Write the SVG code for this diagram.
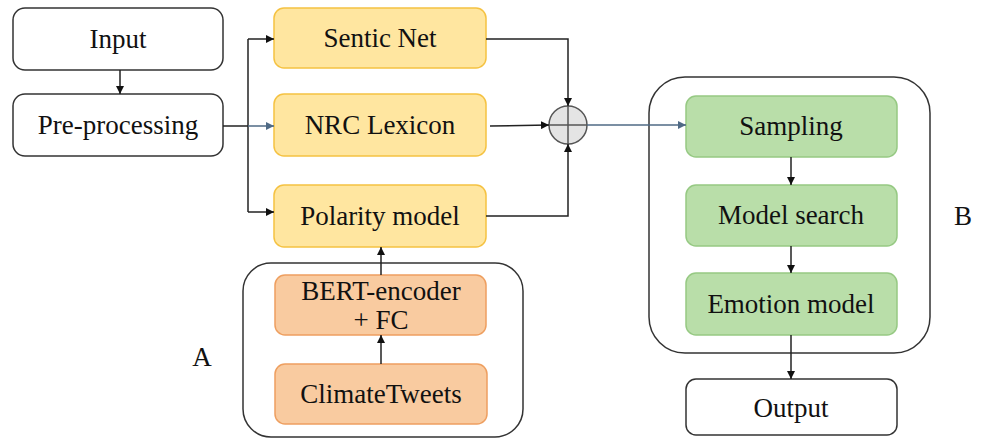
<svg xmlns="http://www.w3.org/2000/svg" width="985" height="439" viewBox="0 0 985 439">
<defs>
<style>
text{font-family:"Liberation Serif","Times New Roman",serif;font-size:27px;fill:#111;text-anchor:middle;dominant-baseline:central}
.w{fill:#fff;stroke:#333;stroke-width:1.5}
.y{fill:#FFE6A0;stroke:#F5C242;stroke-width:1.5}
.o{fill:#F9CBA0;stroke:#EE9F60;stroke-width:1.5}
.g{fill:#B9DEA9;stroke:#96C983;stroke-width:1.5}
.grp{fill:none;stroke:#333;stroke-width:1.5}
.c{fill:none;stroke:#222;stroke-width:1.5}
.b{fill:none;stroke:#4F6A85;stroke-width:1.5}
</style>
<marker id="ah" viewBox="0 0 10 10" refX="10" refY="5" markerWidth="8" markerHeight="8" markerUnits="userSpaceOnUse" orient="auto"><path d="M0,0L10,5L0,10z" fill="#111"/></marker>
<marker id="ahb" viewBox="0 0 10 10" refX="10" refY="5" markerWidth="8" markerHeight="8" markerUnits="userSpaceOnUse" orient="auto"><path d="M0,0L10,5L0,10z" fill="#4F6A85"/></marker>
</defs>
<g id="groupA"><rect class="grp" x="243" y="263" width="280" height="174" rx="28"/></g>
<g id="groupB"><rect class="grp" x="649" y="77" width="281" height="276" rx="36"/></g>
<g id="input"><rect class="w" x="13" y="8" width="210" height="62" rx="12"/><text x="118" y="39">Input</text></g>
<g id="preprocessing"><rect class="w" x="13" y="94" width="210" height="62" rx="12"/><text x="118" y="125">Pre-processing</text></g>
<g id="sentic"><rect class="y" x="274" y="8" width="212" height="60" rx="10"/><text x="380" y="38">Sentic Net</text></g>
<g id="nrc"><rect class="y" x="274" y="94" width="212" height="62" rx="10"/><text x="380" y="125">NRC Lexicon</text></g>
<g id="polarity"><rect class="y" x="274" y="185" width="212" height="62" rx="10"/><text x="380" y="216">Polarity model</text></g>
<g id="bert"><rect class="o" x="275" y="275" width="211" height="60" rx="10"/><text x="381" y="291">BERT-encoder</text><text x="381" y="320">+ FC</text></g>
<g id="climate"><rect class="o" x="275" y="364" width="212" height="60" rx="10"/><text x="381" y="394">ClimateTweets</text></g>
<g id="sum"><circle cx="568" cy="125" r="19" fill="#E4E4E4" stroke="#555" stroke-width="1.5"/><path d="M549,125H587M568,106V144" stroke="#555" stroke-width="1.5"/></g>
<g id="sampling"><rect class="g" x="686" y="96" width="211" height="61" rx="10"/><text x="791" y="126">Sampling</text></g>
<g id="modelsearch"><rect class="g" x="686" y="185" width="211" height="61" rx="10"/><text x="791" y="215">Model search</text></g>
<g id="emotion"><rect class="g" x="686" y="273" width="211" height="62" rx="10"/><text x="791" y="304">Emotion model</text></g>
<g id="output"><rect class="w" x="686" y="379" width="211" height="56" rx="10"/><text x="791" y="408">Output</text></g>
<g id="labelA"><text x="202" y="357">A</text></g>
<g id="labelB"><text x="963" y="216">B</text></g>
<g id="connectors">
<path class="c" d="M120,70V94" marker-end="url(#ah)"/>
<path class="c" d="M223,126H248"/>
<path class="c" d="M248,39V212"/>
<path class="c" d="M248,39H274" marker-end="url(#ah)"/>
<path class="c" d="M248,212H274" marker-end="url(#ah)"/>
<path class="b" d="M248,126H274" marker-end="url(#ahb)"/>
<path class="c" d="M486,39H568V106" marker-end="url(#ah)"/>
<path class="c" d="M490,126L549,125" marker-end="url(#ah)"/>
<path class="c" d="M486,216H568V144" marker-end="url(#ah)"/>
<path class="b" d="M587,125H686" marker-end="url(#ahb)"/>
<path class="c" d="M381,275V247" marker-end="url(#ah)"/>
<path class="c" d="M381,364V335" marker-end="url(#ah)"/>
<path class="c" d="M791,157V185" marker-end="url(#ah)"/>
<path class="c" d="M791,246V273" marker-end="url(#ah)"/>
<path class="c" d="M791,335V379" marker-end="url(#ah)"/>
</g>
</svg>
